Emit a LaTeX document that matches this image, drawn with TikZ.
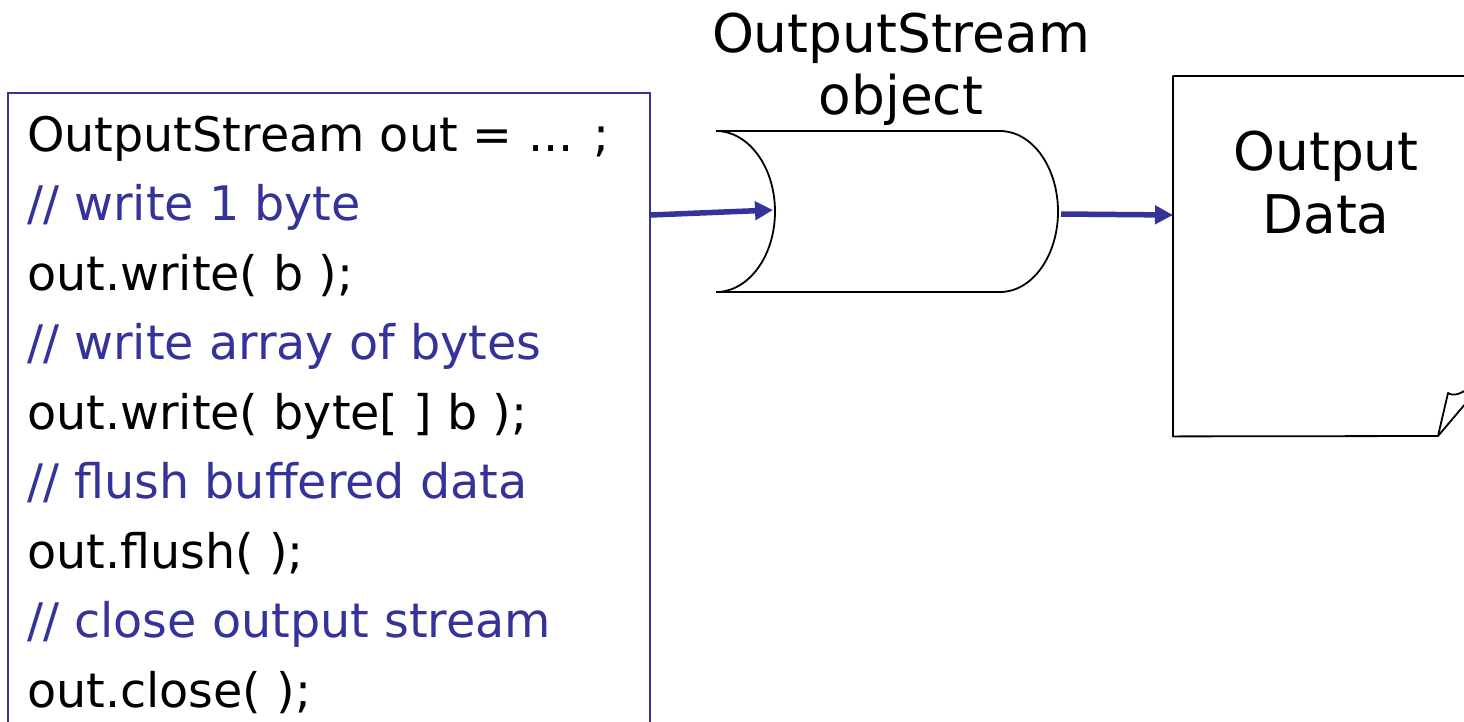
\documentclass[tikz,border=0pt]{standalone}
\usepackage{fontspec}
\setmainfont{DejaVu Sans}
\usetikzlibrary{arrows.meta,calc}
\definecolor{navy}{RGB}{51,51,153}
\tikzset{
  codeline/.style={anchor=base west, inner sep=0pt, font=\fontsize{47.6}{58}\selectfont},
  comment/.style={codeline, text=navy},
  label/.style={anchor=base, inner sep=0pt, font=\fontsize{53.3}{62}\selectfont},
  flow/.style={draw=navy, line width=5.5pt, -{Triangle[length=18pt,width=18pt]}},
  outline/.style={draw=black, line width=1.8pt, line join=round},
}
\begin{document}
\begin{tikzpicture}[x=1pt,y=-1pt]
\useasboundingbox (0,0) rectangle (1464,721);
\clip (0,0) rectangle (1464,721);
% code box
\node[draw=navy, line width=1.8pt, minimum width=642pt, minimum height=700pt, inner sep=0pt, anchor=north west] (code) at (7,92) {};
\node[codeline] (l1) at (27,151) {OutputStream out = ... ;};
\node[comment]  (l2) at (27,220.5) {// write 1 byte};
\node[codeline] (l3) at (27,290) {out.write( b );};
\node[comment]  (l4) at (27,359.5) {// write array of bytes};
\node[codeline] (l5) at (27,429) {out.write( byte[ ] b );};
\node[comment]  (l6) at (27,498.5) {// flush buffered data};
\node[codeline] (l7) at (27,568) {out.flush( );};
\node[comment]  (l8) at (27,637.5) {// close output stream};
\node[codeline] (l9) at (27,707) {out.close( );};
% stream object
\node[label] (t1) at (901,52) {OutputStream};
\node[label] (t2) at (901,114) {object};
\draw[outline] (716,131) arc[start angle=-90,end angle=90,x radius=59,y radius=80.5];
\draw[outline] (716,131) -- (1000,131) arc[start angle=-90,end angle=90,x radius=58,y radius=80.5] -- (716,292);
\coordinate (cylin) at (773,210);
\coordinate (cylout) at (1061,214);
% output data page
\node[inner sep=0pt, minimum width=330pt, minimum height=360pt, anchor=north west] (data) at (1173,76) {};
\draw[outline] (1470,76) -- (data.north west) -- (data.south west) -- (1438,436)
  -- (1448,393) .. controls (1452,396) and (1458,395) .. (1466,390);
\draw[outline] (1438,436) -- (1466,403);
\node[label] (d1) at (1326,170) {Output};
\node[label] (d2) at (1326,233) {Data};
% arrows
\draw[flow] ($(code.north east)+(0,123)$) -- (cylin);
\draw[flow] (cylout) -- ($(data.north west)+(0,139)$);
\end{tikzpicture}
\end{document}
